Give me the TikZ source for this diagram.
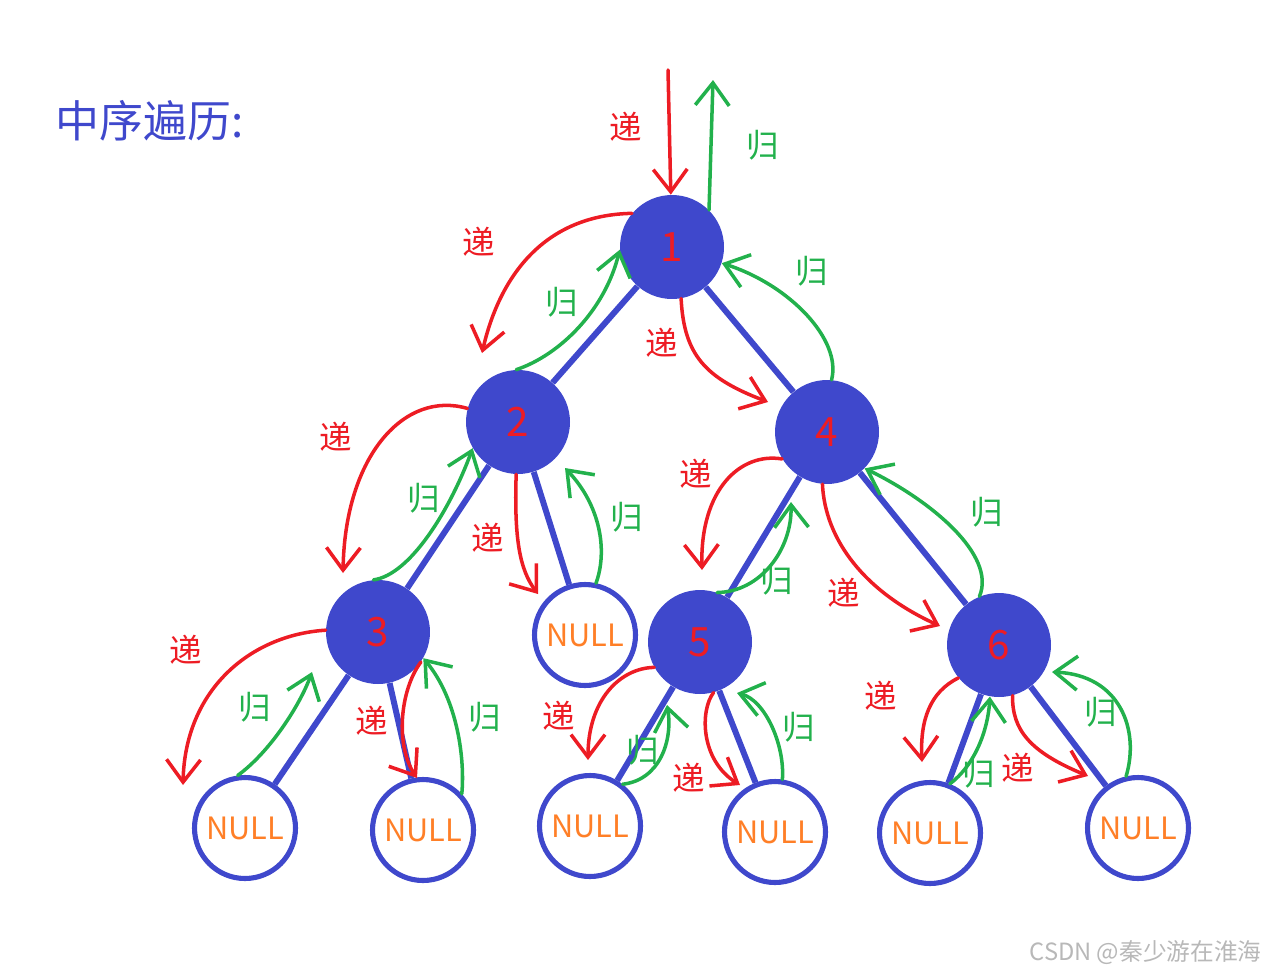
\documentclass[tikz,border=0pt]{standalone}
\usepackage{fontspec}
\setmainfont{Noto Sans CJK SC}
\usetikzlibrary{arrows.meta}

\definecolor{nodeblue}{HTML}{3F48CC}
\definecolor{dired}{HTML}{ED1C24}
\definecolor{guigreen}{HTML}{22B14C}
\definecolor{nullorange}{HTML}{FF7F27}

\tikzset{
  numnode/.style={circle, fill=nodeblue, minimum size=2.08cm, inner sep=0pt,
    text=dired, font=\fontsize{23}{23}\selectfont},
  nullnode/.style={circle, draw=nodeblue, line width=2.9pt, fill=white, minimum size=2.02cm,
    inner sep=0pt, text=nullorange, font=\fontsize{17.5}{17.5}\selectfont},
  branch/.style={draw=nodeblue, line width=3.4pt},
  di/.style={draw=dired, line width=2pt, line cap=round, ->},
  gui/.style={draw=guigreen, line width=2pt, line cap=round, ->},
  dilabel/.style={text=dired, inner sep=0pt, font=\fontsize{18.5}{18.5}\selectfont},
  guilabel/.style={text=guigreen, inner sep=0pt, font=\fontsize{18.5}{18.5}\selectfont},
  >={Straight Barb[length=0.45cm,width=0.68cm]},
}

\begin{document}
\begin{tikzpicture}[x=0.02cm, y=-0.02cm]
        \useasboundingbox (0,0) rectangle (1266,977);

        \node[anchor=west, inner sep=0pt, text=nodeblue, font=\fontsize{25}{25}\selectfont] (title) at (55,121) {中序遍历:};

        % tree
        \node[numnode] (N1) at (672,247) {1};
        \node[numnode] (N2) at (518,422) {2};
        \node[numnode] (N4) at (827,432) {4};
        \node[numnode] (N3) at (378,632) {3};
        \node[numnode] (N5) at (700,642) {5};
        \node[numnode] (N6) at (999,645) {6};
        \node[nullnode] (R2) at (585,635) {NULL};
        \node[nullnode] (L3) at (245,828) {NULL};
        \node[nullnode] (R3) at (423,830) {NULL};
        \node[nullnode] (L5) at (590,826) {NULL};
        \node[nullnode] (R5) at (775,832) {NULL};
        \node[nullnode] (L6) at (930,833) {NULL};
        \node[nullnode] (R6) at (1138,828) {NULL};

        \draw[branch] (N1) -- (N2);
        \draw[branch] (N1) -- (N4);
        \draw[branch] (N2) -- (N3);
        \draw[branch] (N2) -- (R2);
        \draw[branch] (N4) -- (N5);
        \draw[branch] (N4) -- (N6);
        \draw[branch] (N3) -- (L3);
        \draw[branch] (N3) -- (R3);
        \draw[branch] (N5) -- (L5);
        \draw[branch] (N5) -- (R5);
        \draw[branch] (N6) -- (L6);
        \draw[branch] (N6) -- (R6);

        % free ends
        \coordinate (top) at (668,70);
        \coordinate (up) at (713,80);
        \coordinate (d12) at (482,353);
        \coordinate (d14) at (768,402);
        \coordinate (d23) at (343,573);
        \coordinate (d2R) at (538,594);
        \coordinate (d45) at (702,570);
        \coordinate (d46) at (940,626);
        \coordinate (d3L) at (183,785);
        \coordinate (d3R) at (417,778);
        \coordinate (d5L) at (588,760);
        \coordinate (d5R) at (740,785);
        \coordinate (d6L) at (922,762);
        \coordinate (d6R) at (1088,776);
        \coordinate (g2R) at (565,468);
        \coordinate (g54) at (791,502);
        \coordinate (g3L) at (312,672);
        \coordinate (g5L) at (667,705);
        \coordinate (g5R) at (737,693);
        \coordinate (g6R) at (1052,672);

        % 递
        \draw[di] (top) -- (N1);
        \draw[di] (N1.140) .. controls (545,215) and (500,275) .. (d12);
        \draw[di] (N1.280) .. controls (684,355) and (705,378) .. (d14);
        \draw[di] (N2.165) .. controls (405,390) and (345,455) .. (d23);
        \draw[di] (N2.268) .. controls (514,540) and (520,570) .. (d2R);
        \draw[di] (N4.211) .. controls (740,452) and (700,490) .. (d45);
        \draw[di] (N4.265) .. controls (825,540) and (865,592) .. (d46);
        \draw[di] (N3.178) .. controls (250,635) and (185,690) .. (d3L);
        \draw[di] (N3.325) .. controls (400,690) and (395,745) .. (d3R);
        \draw[di] (N5.209) .. controls (620,668) and (588,700) .. (d5L);
        \draw[di] (N5.285) .. controls (700,710) and (700,760) .. (d5R);
        \draw[di] (N6.219) .. controls (930,692) and (920,720) .. (d6L);
        \draw[di] (N6.285) .. controls (1012,730) and (1030,752) .. (d6R);

        % 归
        \draw[gui] (N1.45) -- (up);
        \draw[gui] (N2.92) .. controls (560,355) and (605,310) .. (N1.183);
        \draw[gui] (N4.85) .. controls (842,340) and (790,285) .. (N1.342);
        \draw[gui] (N3.95) .. controls (410,575) and (450,510) .. (N2.210);
        \draw[gui] (R2.78) .. controls (608,550) and (600,505) .. (g2R);
        \draw[gui] (N5.71) .. controls (760,592) and (792,550) .. (g54);
        \draw[gui] (N6.112) .. controls (997,555) and (930,500) .. (N4.316);
        \draw[gui] (L3.98) .. controls (270,752) and (300,705) .. (g3L);
        \draw[gui] (R3.43) .. controls (465,760) and (458,700) .. (N3.330);
        \draw[gui] (L5.52) .. controls (660,780) and (673,740) .. (g5L);
        \draw[gui] (R5.82) .. controls (785,745) and (765,700) .. (g5R);
        \draw[gui] (L6.68) .. controls (975,765) and (988,730) .. (N6.260);
        \draw[gui] (R6.103) .. controls (1140,730) and (1120,675) .. (g6R);

        \node[dilabel] (t0) at (626,127) {递};
        \node[dilabel] (t12) at (479,242) {递};
        \node[dilabel] (t14) at (662,343) {递};
        \node[dilabel] (t23) at (336,437) {递};
        \node[dilabel] (t2R) at (488,538) {递};
        \node[dilabel] (t45) at (696,474) {递};
        \node[dilabel] (t46) at (844,593) {递};
        \node[dilabel] (t3L) at (186,650) {递};
        \node[dilabel] (t3R) at (372,721) {递};
        \node[dilabel] (t5L) at (559,716) {递};
        \node[dilabel] (t5R) at (689,778) {递};
        \node[dilabel] (t6L) at (881,696) {递};
        \node[dilabel] (t6R) at (1018,768) {递};

        \node[guilabel] (u0) at (763,145) {归};
        \node[guilabel] (u21) at (562,302) {归};
        \node[guilabel] (u41) at (812,271) {归};
        \node[guilabel] (u32) at (424,498) {归};
        \node[guilabel] (u2R) at (627,517) {归};
        \node[guilabel] (u54) at (777,580) {归};
        \node[guilabel] (u64) at (987,512) {归};
        \node[guilabel] (u3L) at (255,707) {归};
        \node[guilabel] (u3R) at (485,717) {归};
        \node[guilabel] (u5L) at (643,750) {归};
        \node[guilabel] (u5R) at (799,727) {归};
        \node[guilabel] (u6L) at (979,773) {归};
        \node[guilabel] (u6R) at (1101,712) {归};

        \node[anchor=east, inner sep=0pt, text=black!28, font=\fontsize{13.5}{13.5}\selectfont] (mark) at (1262,953) {CSDN @秦少游在淮海};
    \end{tikzpicture}
\end{document}
